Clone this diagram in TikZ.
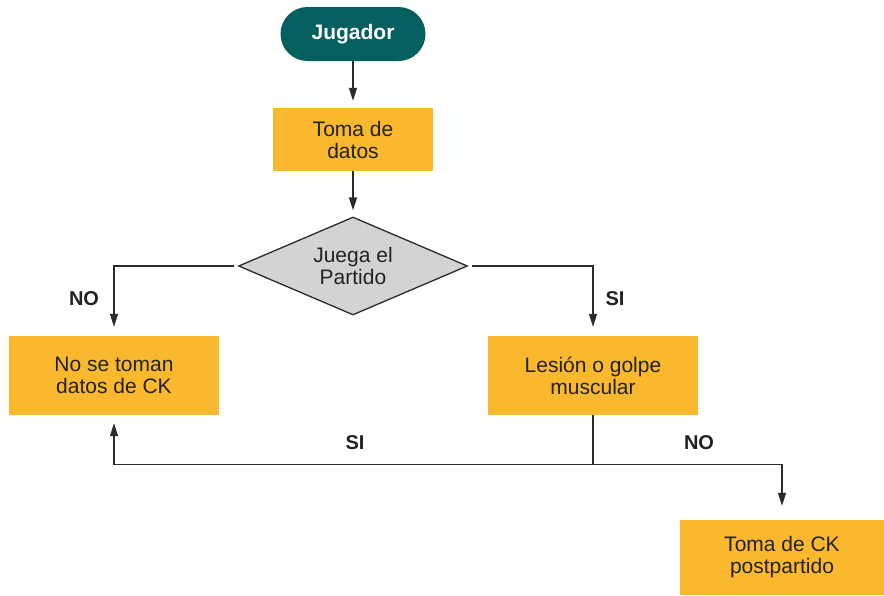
\documentclass[tikz,border=0pt]{standalone}
\usepackage{fontspec}
\setmainfont{Liberation Sans}
\usetikzlibrary{shapes.geometric,arrows.meta}
\definecolor{petroleo}{HTML}{03605F}
\definecolor{naranja}{HTML}{FAB82E}
\definecolor{gris}{HTML}{D3D3D3}
\definecolor{trazo}{HTML}{2B2B2B}
\definecolor{texto}{HTML}{222222}
\begin{document}
\begin{tikzpicture}[x=1pt,y=-1pt,font=\fontsize{21}{22}\selectfont,
  >={Triangle[length=13pt,width=8pt]},
  caja/.style={fill=naranja,minimum width=210pt,minimum height=79pt,align=center,text=texto},
  etiq/.style={font=\fontsize{20}{22}\selectfont\bfseries,text=texto},
  linea/.style={draw=trazo,line width=1.3pt}]
\useasboundingbox (0,0) rectangle (884,595);

\node[fill=petroleo,text=white,rounded corners=27pt,minimum width=145pt,
  minimum height=54pt,font=\fontsize{21}{22}\selectfont\bfseries] (jugador) at (353,34) {Jugador};

\node[caja,minimum width=160pt,minimum height=63pt] (toma) at (353,139.5) {Toma de\\datos};

\node[diamond,aspect=2.34,draw=trazo,fill=gris,line width=1.3pt,minimum width=229pt,
  minimum height=98pt,inner sep=0pt,align=center,text=texto] (juega) at (353,266) {Juega el\\Partido};

\node[caja] (nodatos) at (114,375.5) {No se toman\\datos de CK};
\node[caja] (lesion) at (593,375.5) {Lesión o golpe\\muscular};
\node[caja,minimum width=204pt,minimum height=75pt] (post) at (782,557.5) {Toma de CK\\postpartido};

\path (lesion.south) ++(0,49) coordinate(cruce);

\draw[linea,->,shorten >=7pt] (jugador) -- (toma);
\draw[linea,->,shorten >=6pt] (toma) -- (juega);

\draw[linea,->,shorten <=4pt,shorten >=9pt] (juega.west) -| (nodatos.north);
\draw[linea,->,shorten <=4pt,shorten >=9pt] (juega.east) -| (lesion.north);

\draw[linea] (lesion.south) -- (cruce);
\draw[linea,->,shorten >=8pt] (cruce) -| (nodatos.south);
\draw[linea,->,shorten >=14pt] (cruce) -| (post.north);

\node[etiq] (nolabel) at (84,299) {NO};
\node[etiq] (silabel) at (615,299) {SI};
\node[etiq] (silabelb) at (355,443) {SI};
\node[etiq] (nolabelb) at (699,443) {NO};
\end{tikzpicture}
\end{document}
